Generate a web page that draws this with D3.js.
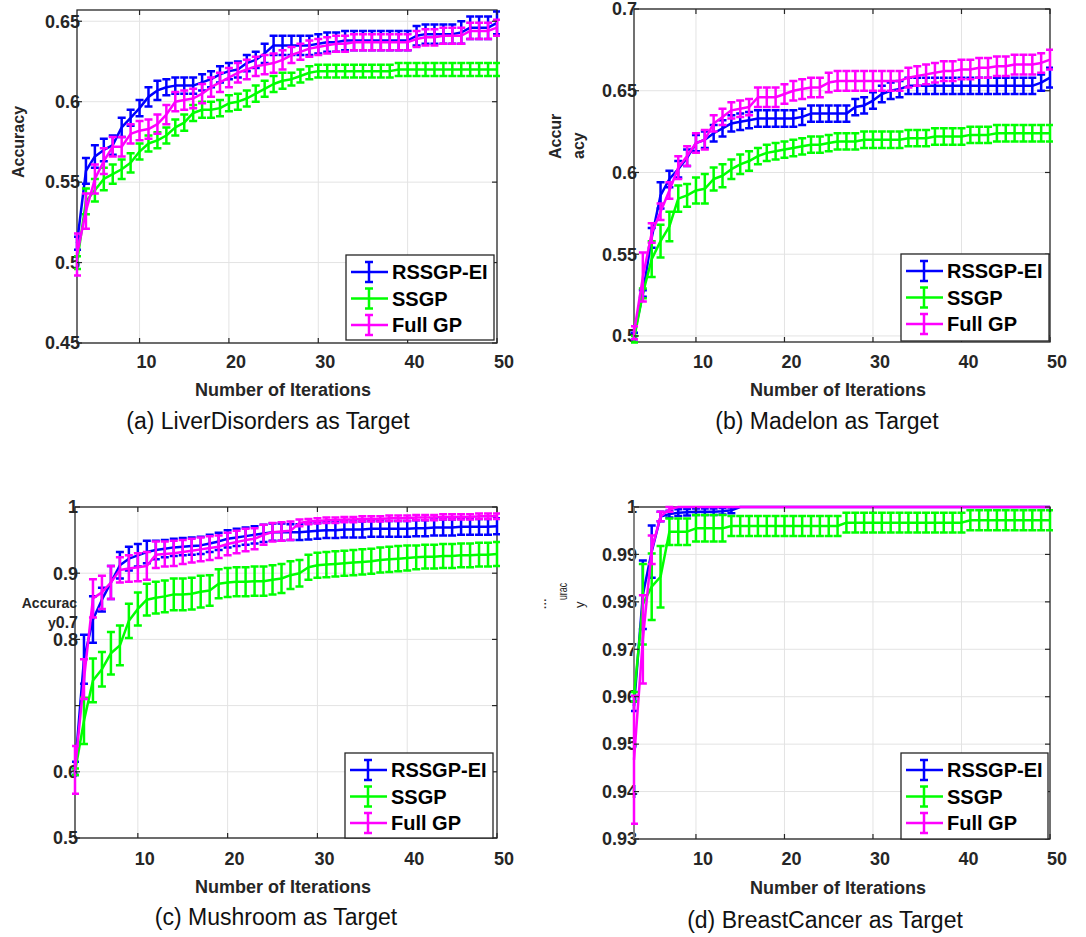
<!DOCTYPE html>
<html>
<head>
<style>
html, body { margin: 0; padding: 0; background: #fff; }
svg { display: block; }
</style>
</head>
<body>
<svg width="1086" height="937"></svg>
<script src="https://cdn.jsdelivr.net/npm/d3@7/dist/d3.min.js"></script>
<script>
// iterations shown on the x axis
var iterations = [3,4,5,6,7,8,9,10,11,12,13,14,15,16,17,18,19,20,21,22,23,24,25,26,
  27,28,29,30,31,32,33,34,35,36,37,38,39,40,41,42,43,44,45,46,47,48,49,50];

var seriesNames = ["RSSGP-EI", "SSGP", "Full GP"];
var seriesColors = ["#0000ff", "#00ff00", "#ff00ff"];
var xTicks = [10, 20, 30, 40, 50];

// (a) LiverDisorders
var liverRss = [0.512,0.557,0.566,0.570,0.573,0.584,0.590,0.596,0.603,0.607,0.609,0.610,
  0.610,0.610,0.612,0.614,0.617,0.619,0.620,0.624,0.626,0.630,0.635,0.635,
  0.635,0.635,0.635,0.636,0.637,0.637,0.638,0.638,0.638,0.638,0.638,0.638,
  0.638,0.638,0.641,0.642,0.642,0.642,0.642,0.643,0.646,0.646,0.646,0.649];
var liverRssErr = [0.004,0.008,0.007,0.007,0.006,0.006,0.005,0.005,0.006,0.006,0.005,0.005,
  0.005,0.005,0.005,0.005,0.005,0.005,0.005,0.005,0.005,0.006,0.006,0.006,
  0.006,0.006,0.006,0.006,0.006,0.006,0.006,0.006,0.006,0.006,0.006,0.006,
  0.006,0.006,0.006,0.006,0.006,0.006,0.006,0.007,0.007,0.007,0.007,0.007];
var liverSsgp = [0.500,0.538,0.545,0.552,0.555,0.558,0.562,0.569,0.574,0.576,0.579,0.584,
  0.587,0.593,0.595,0.595,0.596,0.599,0.600,0.602,0.605,0.608,0.611,0.613,
  0.614,0.616,0.618,0.619,0.619,0.619,0.619,0.619,0.619,0.619,0.619,0.619,
  0.620,0.620,0.620,0.620,0.620,0.620,0.620,0.620,0.620,0.620,0.620,0.620];
var liverSsgpErr = [0.004,0.008,0.007,0.007,0.006,0.006,0.006,0.005,0.005,0.005,0.005,0.005,
  0.005,0.005,0.005,0.005,0.005,0.005,0.005,0.005,0.005,0.005,0.005,0.005,
  0.004,0.004,0.004,0.004,0.004,0.004,0.004,0.004,0.004,0.004,0.004,0.004,
  0.004,0.004,0.004,0.004,0.004,0.004,0.004,0.004,0.004,0.004,0.004,0.004];
var liverFull = [0.505,0.532,0.552,0.563,0.572,0.572,0.580,0.582,0.583,0.586,0.592,0.600,
  0.601,0.602,0.605,0.609,0.612,0.615,0.618,0.620,0.622,0.623,0.624,0.626,
  0.629,0.631,0.633,0.634,0.635,0.636,0.636,0.637,0.637,0.637,0.637,0.637,
  0.637,0.637,0.639,0.640,0.640,0.641,0.641,0.641,0.644,0.644,0.644,0.646];
var liverFullErr = [0.013,0.011,0.009,0.008,0.006,0.006,0.006,0.006,0.006,0.006,0.006,0.006,
  0.006,0.006,0.006,0.006,0.006,0.006,0.006,0.006,0.006,0.006,0.006,0.006,
  0.005,0.005,0.005,0.005,0.005,0.005,0.005,0.005,0.005,0.005,0.005,0.005,
  0.005,0.005,0.005,0.005,0.005,0.005,0.005,0.005,0.005,0.005,0.005,0.005];

// (b) Madelon
var madRss = [0.500,0.526,0.560,0.586,0.596,0.602,0.609,0.618,0.620,0.624,0.627,0.630,
  0.631,0.632,0.633,0.633,0.633,0.633,0.633,0.634,0.636,0.636,0.636,0.636,
  0.636,0.640,0.641,0.644,0.648,0.650,0.651,0.653,0.653,0.653,0.653,0.653,
  0.653,0.653,0.653,0.653,0.653,0.653,0.653,0.653,0.653,0.653,0.655,0.658];
var madRssErr = [0.002,0.002,0.006,0.008,0.005,0.005,0.005,0.005,0.005,0.005,0.005,0.005,
  0.005,0.005,0.005,0.005,0.005,0.005,0.005,0.005,0.005,0.005,0.005,0.005,
  0.005,0.005,0.005,0.005,0.005,0.005,0.005,0.005,0.005,0.005,0.005,0.005,
  0.005,0.005,0.005,0.005,0.005,0.005,0.005,0.005,0.005,0.005,0.005,0.006];
var madSsgp = [0.498,0.526,0.547,0.558,0.567,0.584,0.586,0.589,0.590,0.596,0.598,0.602,
  0.605,0.607,0.610,0.612,0.613,0.614,0.615,0.616,0.617,0.617,0.618,0.619,
  0.619,0.619,0.620,0.620,0.620,0.620,0.620,0.621,0.621,0.621,0.622,0.622,
  0.622,0.622,0.623,0.623,0.623,0.624,0.624,0.624,0.624,0.624,0.624,0.624];
var madSsgpErr = [0.002,0.003,0.011,0.010,0.009,0.008,0.007,0.008,0.009,0.007,0.007,0.006,
  0.006,0.006,0.005,0.005,0.005,0.005,0.005,0.005,0.005,0.005,0.005,0.005,
  0.005,0.005,0.005,0.005,0.005,0.005,0.005,0.005,0.005,0.005,0.005,0.005,
  0.005,0.005,0.005,0.005,0.005,0.005,0.005,0.005,0.005,0.005,0.005,0.005];
var madFull = [0.502,0.536,0.563,0.576,0.589,0.603,0.610,0.618,0.620,0.630,0.634,0.638,
  0.639,0.640,0.646,0.646,0.646,0.648,0.650,0.651,0.652,0.652,0.655,0.656,
  0.656,0.656,0.656,0.656,0.656,0.656,0.656,0.658,0.659,0.660,0.661,0.662,
  0.662,0.663,0.663,0.664,0.664,0.665,0.665,0.666,0.666,0.666,0.667,0.669];
var madFullErr = [0.004,0.015,0.006,0.005,0.005,0.007,0.006,0.006,0.006,0.005,0.005,0.005,
  0.005,0.005,0.006,0.006,0.006,0.006,0.006,0.006,0.006,0.006,0.006,0.006,
  0.006,0.006,0.006,0.006,0.006,0.006,0.006,0.006,0.006,0.006,0.006,0.006,
  0.006,0.006,0.006,0.006,0.006,0.006,0.006,0.006,0.006,0.006,0.006,0.006];

// (c) Mushroom
var mushRss = [0.605,0.770,0.830,0.860,0.886,0.912,0.922,0.927,0.932,0.935,0.937,0.939,
  0.940,0.941,0.942,0.945,0.948,0.952,0.954,0.956,0.958,0.960,0.962,0.962,
  0.962,0.962,0.963,0.964,0.965,0.965,0.966,0.966,0.966,0.967,0.967,0.967,
  0.967,0.967,0.968,0.968,0.969,0.969,0.969,0.970,0.970,0.970,0.970,0.971];
var mushRssErr = [0.010,0.037,0.035,0.018,0.025,0.020,0.018,0.017,0.017,0.014,0.013,0.013,
  0.013,0.013,0.013,0.013,0.013,0.013,0.013,0.013,0.013,0.013,0.013,0.013,
  0.012,0.012,0.012,0.012,0.012,0.012,0.012,0.012,0.012,0.012,0.012,0.012,
  0.012,0.012,0.012,0.012,0.012,0.012,0.012,0.012,0.012,0.012,0.012,0.012];
var mushSsgp = [0.600,0.677,0.738,0.755,0.779,0.791,0.828,0.846,0.860,0.863,0.865,0.868,
  0.868,0.869,0.872,0.874,0.884,0.886,0.887,0.887,0.888,0.888,0.890,0.892,
  0.897,0.900,0.909,0.912,0.913,0.914,0.915,0.916,0.917,0.918,0.920,0.921,
  0.922,0.923,0.924,0.925,0.925,0.926,0.926,0.927,0.927,0.928,0.928,0.929];
var mushSsgpErr = [0.005,0.035,0.033,0.026,0.032,0.030,0.026,0.025,0.024,0.024,0.024,0.024,
  0.024,0.024,0.024,0.023,0.022,0.022,0.022,0.022,0.022,0.022,0.022,0.022,
  0.021,0.020,0.019,0.019,0.019,0.019,0.019,0.019,0.019,0.019,0.019,0.019,
  0.019,0.019,0.018,0.018,0.018,0.018,0.018,0.018,0.018,0.018,0.018,0.018];
var mushFull = [0.603,0.740,0.862,0.871,0.886,0.905,0.907,0.909,0.911,0.928,0.929,0.930,
  0.932,0.934,0.936,0.938,0.940,0.944,0.947,0.950,0.952,0.958,0.962,0.963,
  0.964,0.976,0.978,0.979,0.980,0.980,0.981,0.981,0.982,0.982,0.982,0.983,
  0.983,0.983,0.984,0.984,0.984,0.985,0.985,0.985,0.985,0.986,0.986,0.986];
var mushFullErr = [0.036,0.030,0.029,0.025,0.025,0.019,0.020,0.021,0.021,0.020,0.019,0.019,
  0.018,0.018,0.018,0.018,0.017,0.017,0.017,0.017,0.016,0.015,0.014,0.014,
  0.014,0.005,0.004,0.004,0.004,0.004,0.004,0.004,0.004,0.004,0.004,0.004,
  0.004,0.004,0.004,0.004,0.004,0.004,0.004,0.004,0.004,0.004,0.004,0.004];

// (d) BreastCancer
var breastRss = [0.958,0.9815,0.9906,0.998,0.9985,0.9988,0.9989,0.999,0.999,0.999,0.9991,0.9993,
  1,1,1,1,1,1,1,1,1,1,1,1,
  1,1,1,1,1,1,1,1,1,1,1,1,
  1,1,1,1,1,1,1,1,1,1,1,1];
var breastRssErr = [0.001,0.0072,0.0055,0.001,0.0007,0.0007,0.0007,0.0007,0.0007,0.0007,0.0007,0.0006,
  0,0,0,0,0,0,0,0,0,0,0,0,
  0,0,0,0,0,0,0,0,0,0,0,0,
  0,0,0,0,0,0,0,0,0,0,0,0];
var breastSsgp = [0.960,0.9795,0.9832,0.9853,0.9948,0.9948,0.9948,0.9955,0.9955,0.9955,0.9955,0.996,
  0.996,0.996,0.996,0.996,0.996,0.996,0.996,0.996,0.996,0.996,0.996,0.996,
  0.9967,0.9967,0.9967,0.9967,0.9967,0.9967,0.9967,0.9967,0.9967,0.9967,0.9967,0.9967,
  0.9967,0.9967,0.9972,0.9972,0.9972,0.9972,0.9972,0.9972,0.9972,0.9972,0.9972,0.9972];
var breastSsgpErr = [0.001,0.0085,0.007,0.0065,0.0028,0.0028,0.0028,0.0028,0.0028,0.0028,0.0028,0.0021,
  0.0021,0.0021,0.0021,0.0021,0.0021,0.0021,0.0021,0.0021,0.0021,0.0021,0.0021,0.0021,
  0.0021,0.0021,0.0021,0.0021,0.0021,0.0021,0.0021,0.0021,0.0021,0.0021,0.0021,0.0021,
  0.0021,0.0021,0.0021,0.0021,0.0021,0.0021,0.0021,0.0021,0.0021,0.0021,0.0021,0.0021];
var breastFull = [0.9467,0.9721,0.991,0.998,0.9995,1,1,1,1,1,1,1,
  1,1,1,1,1,1,1,1,1,1,1,1,
  1,1,1,1,1,1,1,1,1,1,1,1,
  1,1,1,1,1,1,1,1,1,1,1,1];
var breastFullErr = [0.0135,0.0093,0.003,0.001,0.0005,0,0,0,0,0,0,0,
  0,0,0,0,0,0,0,0,0,0,0,0,
  0,0,0,0,0,0,0,0,0,0,0,0,
  0,0,0,0,0,0,0,0,0,0,0,0];

var liverTicks = [0.45, 0.5, 0.55, 0.6, 0.65];
var madTicks = [0.5, 0.55, 0.6, 0.65, 0.7];
var mushTicks = [0.5, 0.6, 0.7, 0.8, 0.9, 1];
var breastTicks = [0.93, 0.94, 0.95, 0.96, 0.97, 0.98, 0.99, 1];

var captions = ["(a) LiverDisorders as Target", "(b) Madelon as Target",
  "(c) Mushroom as Target", "(d) BreastCancer as Target"];

var panels = [
  {x0: 77, x1: 497, y0: 10, y1: 343, yDom: [0.45, 0.657], ticks: liverTicks,
   series: [[liverRss, liverRssErr], [liverSsgp, liverSsgpErr], [liverFull, liverFullErr]],
   caption: captions[0], capX: 268, capY: 429, xlabX: 283, xlabY: 396, tickY: 368,
   legend: [346, 255, 148, 85]},
  {x0: 634, x1: 1050, y0: 9, y1: 342, yDom: [0.4963, 0.7], ticks: madTicks,
   series: [[madRss, madRssErr], [madSsgp, madSsgpErr], [madFull, madFullErr]],
   caption: captions[1], capX: 827, capY: 429, xlabX: 838, xlabY: 396, tickY: 368,
   legend: [901, 254, 148, 87]},
  {x0: 75, x1: 497, y0: 507, y1: 838, yDom: [0.5, 1], ticks: mushTicks, skipLabel: 0.7,
   series: [[mushRss, mushRssErr], [mushSsgp, mushSsgpErr], [mushFull, mushFullErr]],
   caption: captions[2], capX: 276, capY: 925, xlabX: 283, xlabY: 893, tickY: 865,
   legend: [345, 753, 148, 85]},
  {x0: 634, x1: 1050, y0: 507, y1: 839, yDom: [0.93, 1], ticks: breastTicks, leftColor: "#8a8a8a",
   series: [[breastRss, breastRssErr], [breastSsgp, breastSsgpErr], [breastFull, breastFullErr]],
   caption: captions[3], capX: 825, capY: 928, xlabX: 838, xlabY: 894, tickY: 865,
   legend: [901, 753, 147, 86]}
];

var svg = d3.select("svg");
var axisColor = "#262626";
var font = "'Liberation Sans', Arial, sans-serif";

panels.forEach(function(p, pi) {
  var x = d3.scaleLinear().domain([3, 50]).range([p.x0, p.x1]);
  var y = d3.scaleLinear().domain(p.yDom).range([p.y1, p.y0]);
  var g = svg.append("g");

  // grid
  g.selectAll(".gx").data(xTicks.filter(function(t){ return t < 50; })).enter()
    .append("line")
    .attr("x1", function(d){ return x(d); }).attr("x2", function(d){ return x(d); })
    .attr("y1", p.y0).attr("y2", p.y1)
    .attr("stroke", "#e3e3e3").attr("stroke-width", 1);
  g.selectAll(".gy").data(p.ticks).enter()
    .append("line")
    .attr("x1", p.x0).attr("x2", p.x1)
    .attr("y1", function(d){ return y(d); }).attr("y2", function(d){ return y(d); })
    .attr("stroke", "#e3e3e3").attr("stroke-width", 1);

  // tick labels
  g.selectAll(".yl").data(p.ticks.filter(function(t){ return t !== p.skipLabel; })).enter()
    .append("text")
    .attr("x", p.x0 + 3).attr("y", function(d){ return y(d); })
    .attr("dy", "0.35em").attr("text-anchor", "end")
    .attr("font-family", font).attr("font-weight", "bold").attr("font-size", 18)
    .attr("fill", axisColor)
    .text(function(d){ return String(d); });
  g.selectAll(".xl").data(xTicks).enter()
    .append("text")
    .attr("x", function(d){ return x(d) + 7; }).attr("y", p.tickY)
    .attr("text-anchor", "middle")
    .attr("font-family", font).attr("font-weight", "bold").attr("font-size", 18)
    .attr("fill", axisColor)
    .text(function(d){ return d; });

  g.append("text")
    .attr("x", p.xlabX).attr("y", p.xlabY).attr("text-anchor", "middle")
    .attr("font-family", font).attr("font-weight", "bold").attr("font-size", 18)
    .attr("fill", axisColor)
    .text("Number of Iterations");
  g.append("text")
    .attr("x", p.capX).attr("y", p.capY).attr("text-anchor", "middle")
    .attr("font-family", font).attr("font-size", 23).attr("fill", "#111")
    .text(p.caption);

  // data
  var clipId = "clip" + pi;
  svg.append("clipPath").attr("id", clipId).append("rect")
    .attr("x", p.x0 - 3).attr("y", p.y0 - 2)
    .attr("width", p.x1 - p.x0 + 6).attr("height", p.y1 - p.y0 + 4);
  var dg = g.append("g").attr("clip-path", "url(#" + clipId + ")");
  var line = d3.line()
    .x(function(d, i){ return x(iterations[i]); })
    .y(function(d){ return y(d); });

  // axes box (drawn under the data, like the reference where lines cover the top edge)
  g.insert("rect", function(){ return dg.node(); })
    .attr("x", p.x0).attr("y", p.y0)
    .attr("width", p.x1 - p.x0).attr("height", p.y1 - p.y0)
    .attr("fill", "none").attr("stroke", axisColor).attr("stroke-width", 1.3);
  if (p.leftColor) {
    g.insert("line", function(){ return dg.node(); })
      .attr("x1", p.x0).attr("x2", p.x0).attr("y1", p.y0).attr("y2", p.y1)
      .attr("stroke", p.leftColor).attr("stroke-width", 1.6);
  }

  p.series.forEach(function(s, si) {
    var vals = s[0], errs = s[1], col = seriesColors[si];
    var pts = vals.map(function(v, i){ return {it: iterations[i], v: v, e: errs[i]}; })
      .filter(function(d){ return d.e > 0; });
    var eb = dg.append("g").attr("stroke", col).attr("stroke-width", 2.5).attr("fill", "none");
    eb.selectAll("path").data(pts).enter().append("path")
      .attr("d", function(d) {
        var cx = x(d.it), yt = y(d.v + d.e), yb = y(d.v - d.e);
        return "M" + cx + "," + yt + "V" + yb +
          "M" + (cx - 4) + "," + yt + "H" + (cx + 4) +
          "M" + (cx - 4) + "," + yb + "H" + (cx + 4);
      });
    dg.append("path").attr("d", line(vals))
      .attr("fill", "none").attr("stroke", col).attr("stroke-width", 2.5)
      .attr("stroke-linejoin", "round");
  });

  // ticks
  var tk = g.append("g").attr("stroke", axisColor).attr("stroke-width", 1.2);
  xTicks.forEach(function(t) {
    tk.append("line").attr("x1", x(t)).attr("x2", x(t)).attr("y1", p.y1).attr("y2", p.y1 - 5);
    tk.append("line").attr("x1", x(t)).attr("x2", x(t)).attr("y1", p.y0).attr("y2", p.y0 + 5);
  });
  p.ticks.forEach(function(t) {
    tk.append("line").attr("x1", p.x0).attr("x2", p.x0 + 5).attr("y1", y(t)).attr("y2", y(t));
    tk.append("line").attr("x1", p.x1).attr("x2", p.x1 - 5).attr("y1", y(t)).attr("y2", y(t));
  });

  // legend
  var L = p.legend;
  var lg = g.append("g");
  lg.append("rect").attr("x", L[0]).attr("y", L[1]).attr("width", L[2]).attr("height", L[3])
    .attr("fill", "#fff").attr("stroke", axisColor).attr("stroke-width", 1.3);
  seriesNames.forEach(function(name, si) {
    var cy = L[1] + 17 + si * 26.5, col = seriesColors[si];
    var sx = L[0] + 5, ex = L[0] + 42, mx = L[0] + 23;
    lg.append("path")
      .attr("d", "M" + sx + "," + cy + "H" + ex +
        "M" + mx + "," + (cy - 10) + "V" + (cy + 10) +
        "M" + (mx - 4) + "," + (cy - 10) + "H" + (mx + 4) +
        "M" + (mx - 4) + "," + (cy + 10) + "H" + (mx + 4))
      .attr("fill", "none").attr("stroke", col).attr("stroke-width", 2.5);
    lg.append("text").attr("x", L[0] + 46).attr("y", cy).attr("dy", "0.36em")
      .attr("font-family", font).attr("font-weight", "bold").attr("font-size", 20)
      .attr("fill", "#000").text(name);
  });
});

// y axis titles (each panel renders it differently)
svg.append("text")
  .attr("transform", "translate(24,142) rotate(-90)")
  .attr("text-anchor", "middle")
  .attr("font-family", font).attr("font-weight", "bold").attr("font-size", 16)
  .attr("fill", axisColor).text("Accuracy");

svg.append("text")
  .attr("transform", "translate(561,159) rotate(-90)")
  .attr("text-anchor", "start")
  .attr("font-family", font).attr("font-weight", "bold").attr("font-size", 16)
  .attr("fill", axisColor).text("Accur");
svg.append("text")
  .attr("transform", "translate(584,159) rotate(-90)")
  .attr("text-anchor", "start")
  .attr("font-family", font).attr("font-weight", "bold").attr("font-size", 16)
  .attr("fill", axisColor).text("acy");

svg.append("text")
  .attr("x", 77).attr("y", 608).attr("text-anchor", "end")
  .attr("font-family", font).attr("font-weight", "bold").attr("font-size", 14)
  .attr("fill", axisColor).text("Accurac");
var y07 = svg.append("text")
  .attr("x", 78).attr("y", 628).attr("text-anchor", "end")
  .attr("font-family", font).attr("font-weight", "bold")
  .attr("fill", axisColor);
y07.append("tspan").attr("font-size", 14).text("y");
y07.append("tspan").attr("font-size", 16).text("0.7");

svg.append("text")
  .attr("transform", "translate(549,609) rotate(-90)")
  .attr("text-anchor", "start")
  .attr("font-family", font).attr("font-weight", "bold").attr("font-size", 11)
  .attr("fill", "#333").text("···");
svg.append("text")
  .attr("transform", "translate(567,600) rotate(-90)")
  .attr("text-anchor", "start")
  .attr("font-family", font).attr("font-size", 13)
  .attr("textLength", 17).attr("lengthAdjust", "spacingAndGlyphs")
  .attr("fill", axisColor).text("urac");
svg.append("text")
  .attr("transform", "translate(584,608) rotate(-90)")
  .attr("text-anchor", "start")
  .attr("font-family", font).attr("font-size", 13)
  .attr("fill", axisColor).text("y");
</script>
</body>
</html>
